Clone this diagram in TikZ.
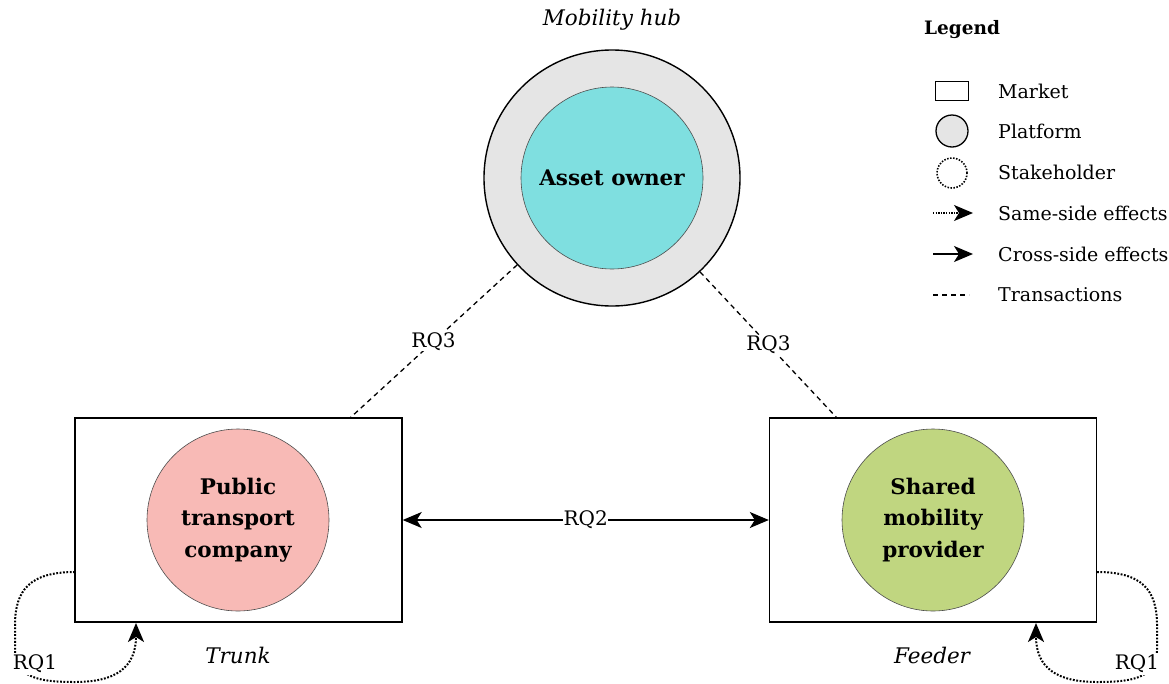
\documentclass[tikz,border=0pt]{standalone}
\usepackage{fontspec}
\setmainfont{DejaVu Serif}
\usetikzlibrary{arrows.meta}
\definecolor{hubgray}{RGB}{229,229,229}
\definecolor{ownercyan}{RGB}{127,223,224}
\definecolor{ptpink}{RGB}{248,186,182}
\definecolor{smgreen}{RGB}{192,214,128}
\begin{document}
\begin{tikzpicture}[x=1pt,y=-1pt,
  every node/.style={font=\fontsize{19}{23}\selectfont},
  market/.style={draw=black,line width=1.4pt,fill=white,minimum width=327pt,minimum height=204pt,inner sep=0pt},
  stake/.style={circle,draw=black!70,line width=0.6pt,minimum size=182pt,inner sep=0pt,align=center,font=\fontsize{21.5}{31.5}\selectfont\bfseries},
  platform/.style={circle,draw=black,line width=1.4pt,fill=hubgray,minimum size=256pt,inner sep=0pt},
  italbl/.style={font=\fontsize{21.5}{25}\selectfont\itshape},
  trans/.style={line width=1.3pt,dash pattern=on 5pt off 4pt},
  same/.style={line width=2pt,dash pattern=on 1.8pt off 1.6pt,-{Stealth[length=19pt,width=16pt,inset=5pt]}},
  cross/.style={line width=1.2pt,{Stealth[length=19pt,width=16pt,inset=5pt]}-{Stealth[length=19pt,width=16pt,inset=5pt]}},
  lbl/.style={fill=white,inner sep=1pt},
  legtext/.style={anchor=west,inner sep=0pt}
]
\useasboundingbox (0,0) rectangle (1169,683);
% hub
\node[platform] (hub) at (612,178) {};
\node[stake,fill=ownercyan] (owner) at (612,178) {Asset owner};
\node[italbl] (hublabel) at (612,20) {Mobility hub};
% markets
\node[market] (trunkbox) at (238.5,520) {};
\node[market] (feederbox) at (933,520) {};
\node[stake,fill=ptpink] (ptc) at (238,520) {Public\\transport\\company};
\node[stake,fill=smgreen] (smp) at (933,520) {Shared\\mobility\\provider};
\node[italbl] (trunklabel) at (238,655) {Trunk};
\node[italbl] (feederlabel) at (932,655) {Feeder};
% transactions
\coordinate (lt) at (350,418);
\coordinate (rt) at (837,418);
\draw[trans] (hub) -- node[lbl,pos=0.5,font=\fontsize{20}{24}\selectfont]{RQ3} (lt);
\draw[trans] (hub) -- node[lbl,pos=0.5,font=\fontsize{20}{24}\selectfont]{RQ3} (rt);
% cross-side
\draw[cross] (trunkbox) -- node[lbl,inner sep=0.5pt,font=\fontsize{20}{24}\selectfont]{RQ2} (feederbox);
% same-side loops
\coordinate (ls) at (75,572);
\coordinate (le) at (136,623);
\draw[same] (ls) .. controls (30,572) and (15,590) .. (15,625) -- (15,650)
  .. controls (15,678) and (40,682) .. (75,682) .. controls (115,682) and (136,668) .. (le);
\node[lbl,inner sep=2pt,font=\fontsize{20}{24}\selectfont] (rq1l) at (35,664) {RQ1};
\coordinate (rs) at (1097,572);
\coordinate (re) at (1036,623);
\draw[same] (rs) .. controls (1142,572) and (1157,590) .. (1157,625) -- (1157,650)
  .. controls (1157,678) and (1132,682) .. (1097,682) .. controls (1057,682) and (1036,668) .. (re);
\node[lbl,inner sep=2pt,font=\fontsize{20}{24}\selectfont] (rq1r) at (1137,664) {RQ1};
% legend
\node[anchor=west,inner sep=0pt,font=\fontsize{18.5}{23}\selectfont\bfseries] (legtitle) at (924,30) {Legend};
\node[draw=black,line width=1.3pt,minimum width=33pt,minimum height=19pt,inner sep=0pt] (legmarket) at (952,91) {};
\node[legtext] (tmarket) at (998,91) {Market};
\node[circle,draw=black,line width=1.3pt,fill=hubgray,minimum size=32pt,inner sep=0pt] (legplat) at (952,131) {};
\node[legtext] (tplat) at (998,131) {Platform};
\node[circle,draw=black,line width=1.6pt,dash pattern=on 1.5pt off 1.5pt,minimum size=30pt,inner sep=0pt] (legstake) at (952,173) {};
\node[legtext] (tstake) at (998,172) {Stakeholder};
\coordinate (ss1) at (933,213); \coordinate (ss2) at (973,213);
\draw[line width=1.4pt,dash pattern=on 1.3pt off 1.3pt,-{Stealth[length=19pt,width=16pt,inset=5pt]}] (ss1) -- (ss2);
\node[legtext] (tsame) at (998,213) {Same-side effects};
\coordinate (cs1) at (933,254); \coordinate (cs2) at (973,254);
\draw[line width=1.6pt,-{Stealth[length=19pt,width=16pt,inset=5pt]}] (cs1) -- (cs2);
\node[legtext] (tcross) at (998,254) {Cross-side effects};
\coordinate (tr1) at (933,295); \coordinate (tr2) at (969,295);
\draw[line width=1.2pt,dash pattern=on 5pt off 4pt] (tr1) -- (tr2);
\node[legtext] (ttrans) at (998,295) {Transactions};
\end{tikzpicture}
\end{document}
